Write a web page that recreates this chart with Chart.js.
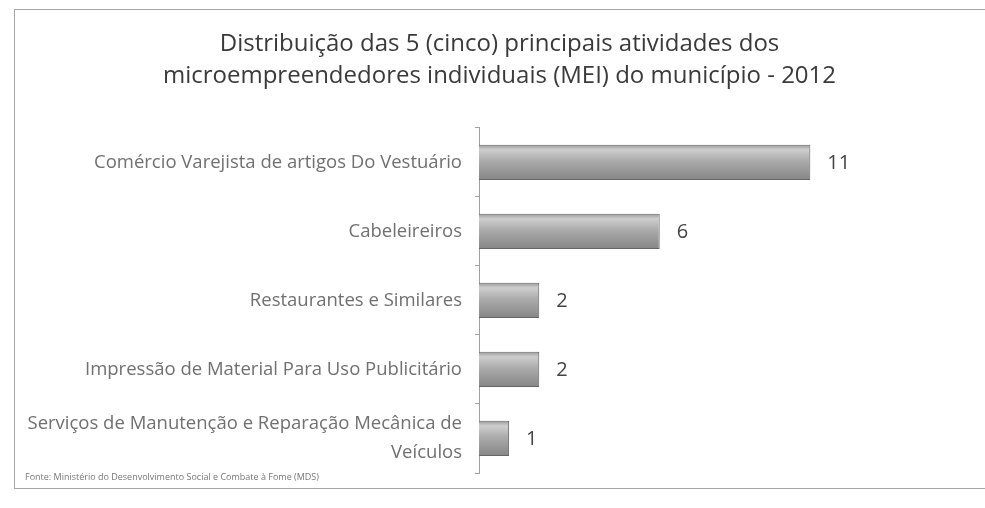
<!DOCTYPE html>
<html>
<head>
<meta charset="utf-8">
<script src="https://cdn.jsdelivr.net/npm/chart.js@4/dist/chart.umd.min.js"></script>
<style>
  html, body { margin: 0; padding: 0; background: #fff; }
  #wrap { position: relative; width: 985px; height: 508px; overflow: hidden; }
  #frame { position: absolute; left: 14px; top: 9px; width: 1000px; height: 480px; border: 1px solid #a6a6a6; box-sizing: border-box; }
  canvas { position: absolute; left: 0; top: 0; }
</style>
</head>
<body>
<div id="wrap">
  <div id="frame"></div>
  <canvas id="myChart" width="985" height="508"></canvas>
</div>
<script>
(() => {
  'use strict'

  const titleLines = [
    'Distribuição das 5 (cinco) principais atividades dos',
    'microempreendedores individuais (MEI) do município - 2012'
  ]
  const categories = [
    'Comércio Varejista de artigos Do Vestuário',
    'Cabeleireiros',
    'Restaurantes e Similares',
    'Impressão de Material Para Uso Publicitário',
    ['Serviços de Manutenção e Reparação Mecânica de', 'Veículos']
  ]
  const values = [11, 6, 2, 2, 1]
  const sourceNote = 'Fonte: Ministério do Desenvolvimento Social e Combate à Fome (MDS)'

  // silver bars, lighter on top
  function barFill (context) {
    const chart = context.chart
    const yScale = chart.scales.y
    if (!yScale || context.dataIndex === undefined) return '#a8a8a8'
    const c = yScale.getPixelForValue(context.dataIndex)
    if (!isFinite(c)) return '#a8a8a8'
    const g = chart.ctx.createLinearGradient(0, c - 18, 0, c + 18)
    g.addColorStop(0, '#969696')
    g.addColorStop(0.15, '#cecece')
    g.addColorStop(0.45, '#acacac')
    g.addColorStop(1, '#858585')
    return g
  }

  const valueLabels = {
    id: 'valueLabels',
    afterDatasetsDraw (chart) {
      const ctx = chart.ctx
      const meta = chart.getDatasetMeta(0)
      ctx.save()
      ctx.font = '20px "Open Sans"'
      ctx.fillStyle = '#444'
      ctx.textAlign = 'left'
      ctx.textBaseline = 'middle'
      meta.data.forEach((bar, i) => {
        ctx.fillText(String(values[i]), bar.x + 17, bar.y + 1)
      })
      ctx.restore()
    }
  }

  const sourceText = {
    id: 'sourceText',
    afterDraw (chart) {
      const ctx = chart.ctx
      ctx.save()
      ctx.font = '9px "Open Sans"'
      ctx.fillStyle = '#777'
      ctx.textAlign = 'left'
      ctx.textBaseline = 'middle'
      ctx.fillText(sourceNote, 25, chart.chartArea.bottom + 4)
      ctx.restore()
    }
  }

  const ctx = document.getElementById('myChart')

  // eslint-disable-next-line no-unused-vars
  const myChart = new Chart(ctx, {
    type: 'bar',
    data: {
      labels: categories,
      datasets: [{
        data: values,
        backgroundColor: barFill,
        borderColor: '#666',
        borderWidth: 1,
        borderSkipped: 'start',
        barPercentage: 0.51,
        categoryPercentage: 1
      }]
    },
    plugins: [valueLabels, sourceText],
    options: {
      indexAxis: 'y',
      responsive: false,
      animation: false,
      layout: {
        padding: { left: 14, right: 0, top: 0, bottom: 35 }
      },
      scales: {
        x: {
          display: false,
          min: 0,
          max: 16.8
        },
        y: {
          afterFit (scale) { scale.width = 465 },
          border: { display: true, color: '#a0a0a0', width: 1 },
          grid: {
            drawOnChartArea: false,
            drawTicks: true,
            tickLength: 4,
            color: '#a0a0a0'
          },
          ticks: {
            padding: 13,
            color: '#707070',
            font: { family: '"Open Sans"', size: 18.5, lineHeight: 1.57 }
          }
        }
      },
      plugins: {
        legend: { display: false },
        tooltip: { enabled: false },
        title: {
          display: true,
          text: titleLines,
          color: '#3a3a3a',
          font: { family: '"Open Sans"', size: 24, weight: 'normal', lineHeight: 1.35 },
          padding: { top: 28, bottom: 35 }
        }
      }
    }
  })
})()
</script>
</body>
</html>
